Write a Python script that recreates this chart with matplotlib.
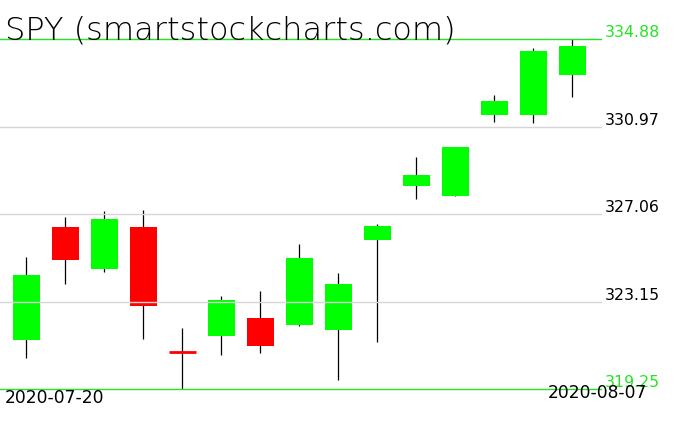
import matplotlib
matplotlib.use("Agg")
import matplotlib.pyplot as plt

dates = ["2020-07-20", "2020-07-21", "2020-07-22", "2020-07-23", "2020-07-24",
         "2020-07-27", "2020-07-28", "2020-07-29", "2020-07-30", "2020-07-31",
         "2020-08-03", "2020-08-04", "2020-08-05", "2020-08-06", "2020-08-07"]
opens  = [321.43, 326.47, 324.62, 326.47, 320.95, 321.63, 322.43, 322.12, 321.90, 325.90,
          328.32, 327.86, 331.47, 331.48, 333.28]
highs  = [325.13, 326.93, 327.20, 327.23, 321.99, 323.41, 323.64, 325.73, 324.41, 326.63,
          329.62, 330.06, 332.39, 334.46, 334.88]
lows   = [320.62, 323.94, 324.47, 321.48, 319.25, 320.77, 320.85, 322.08, 319.64, 321.33,
          327.73, 327.86, 331.18, 331.13, 332.30]
closes = [324.32, 325.01, 326.86, 322.96, 320.88, 323.22, 321.17, 325.12, 323.96, 326.52,
          328.79, 330.06, 332.11, 334.33, 334.57]
levels = [319.25, 323.15, 327.06, 330.97, 334.88]
title = "SPY (smartstockcharts.com)"

W, H = 676, 431
fig = plt.figure(figsize=(W / 100, H / 100), dpi=100)
ax = fig.add_axes([0, (H - 390) / H, 601 / W, 350 / H])
ymin, ymax = levels[0], levels[-1]
ax.set_ylim(ymin, ymax)
ax.set_xlim(-26 / 39, (601 - 26) / 39)
ax.axis("off")

GREEN = "#00ff00"
EDGE_GREEN = "#22e622"
bw = 27 / 39
for i, (o, h, l, c) in enumerate(zip(opens, highs, lows, closes)):
    col = GREEN if c >= o else "#ff0000"
    ax.vlines(i, l, h, color="black", lw=0.9, zorder=2, clip_on=False)
    bottom = min(o, c)
    height = abs(c - o)
    if height < 0.1:
        ax.hlines((o + c) / 2, i - bw / 2, i + bw / 2, color=col, lw=2, zorder=3)
    else:
        ax.bar(i, height, bottom=bottom, width=bw, color=col, edgecolor="none", zorder=3)

for k, v in enumerate(levels):
    edge = k in (0, len(levels) - 1)
    ax.axhline(v, color=EDGE_GREEN if edge else "#d6d6d6", lw=1.0, zorder=4, clip_on=False)
    ax.annotate(f"{v:.2f}", xy=(1, v), xycoords=("axes fraction", "data"),
                xytext=(2.5, 0), textcoords="offset points", ha="left", va="bottom",
                fontsize=11.3, color=EDGE_GREEN if edge else "black")

fig.text(5 / W, (H - 39) / H, title, fontsize=23, color="black", ha="left",
         va="baseline", fontweight="light")
fig.text(5 / W, (H - 407) / H, dates[0], fontsize=12.3, color="black", ha="left", va="bottom")
fig.text(647 / W, (H - 402) / H, dates[-1], fontsize=12.3, color="black", ha="right", va="bottom")

fig.savefig("out.png", dpi=100)
